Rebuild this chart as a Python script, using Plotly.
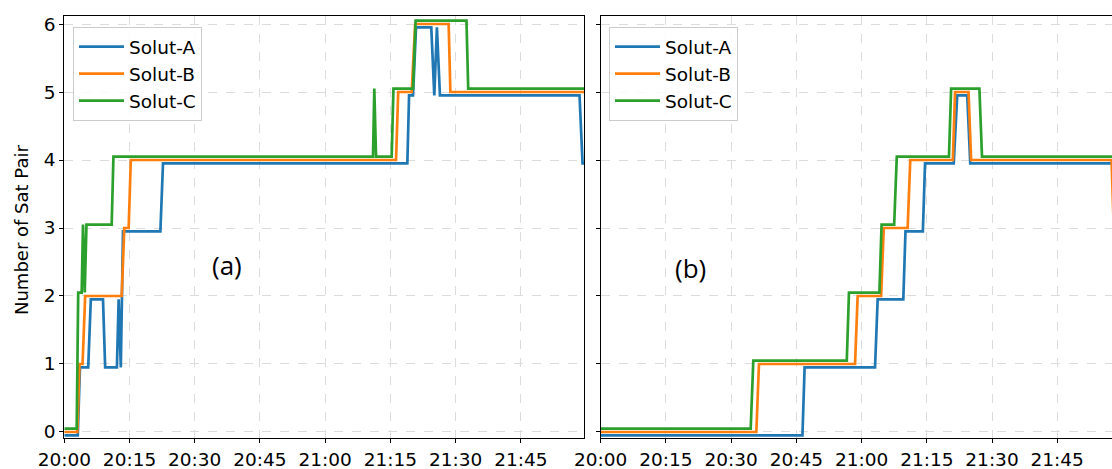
import pandas as pd
import plotly.graph_objects as go

# ---- data (minutes after 20:00, number of satellite pairs) ----
series_names = ["Solut-A", "Solut-B", "Solut-C"]
series_colors = ["#1f77b4", "#ff7f0e", "#2ca02c"]
series_offsets = [-0.05, 0.0, 0.05]

a_A_t = [0, 3.1, 3.6, 5.5, 6.1, 8.9, 9.4, 12.1, 12.5, 13.0, 13.5, 22.1, 22.7, 78.9, 79.3, 80.2, 80.9,
         84.4, 85.1, 85.7, 86.4, 118.5, 119.2, 120]
a_A_v = [0, 0, 1, 1, 2, 2, 1, 1, 2, 1, 3, 3, 4, 4, 5, 5, 6, 6, 5, 6, 5, 5, 4, 4]

a_B_t = [0, 3.0, 3.5, 4.2, 4.8, 13.2, 13.8, 14.8, 15.3, 76.3, 76.8, 79.9, 80.7, 88.4, 88.8, 120]
a_B_v = [0, 0, 1, 1, 2, 2, 3, 3, 4, 4, 5, 5, 6, 6, 5, 5]

a_C_t = [0, 2.85, 3.2, 4.0, 4.3, 4.7, 5.1, 10.9, 11.3, 71.0, 71.3, 71.7, 75.3, 75.7, 80.2, 80.8,
         92.5, 92.9, 120]
a_C_v = [0, 0, 2, 2, 3, 2, 3, 3, 4, 4, 5, 4, 4, 5, 5, 6, 6, 5, 5]

b_A_t = [0, 46.4, 46.9, 63.1, 63.7, 69.6, 70.1, 74.1, 74.6, 81.2, 82.0, 84.3, 85.0, 120]
b_A_v = [0, 0, 1, 1, 2, 2, 3, 3, 4, 4, 5, 5, 4, 4]

b_B_t = [0, 35.8, 36.4, 58.5, 59.1, 64.5, 65.1, 70.6, 71.2, 81.0, 81.5, 84.6, 85.2, 117.5, 118.5]
b_B_v = [0, 0, 1, 1, 2, 2, 3, 3, 4, 4, 5, 5, 4, 4, 2]

b_C_t = [0, 34.5, 35.1, 56.6, 57.1, 64.1, 64.6, 67.5, 68.1, 80.1, 80.6, 87.1, 87.7, 120]
b_C_v = [0, 0, 1, 1, 2, 2, 3, 3, 4, 4, 5, 5, 4, 4]

panel_labels = ["(a)", "(b)"]
y_ticks = [0, 1, 2, 3, 4, 5, 6]
y_title = "Number of Sat Pair"

base = pd.Timestamp("2024-01-01 20:00:00")


def to_time(mins):
    return [base + pd.Timedelta(minutes=m) for m in mins]


panels = [
    [(a_A_t, a_A_v), (a_B_t, a_B_v), (a_C_t, a_C_v)],
    [(b_A_t, b_A_v), (b_B_t, b_B_v), (b_C_t, b_C_v)],
]

fig = go.Figure()
for p, panel in enumerate(panels):
    xa = "x" if p == 0 else "x2"
    ya = "y" if p == 0 else "y2"
    lg = "legend" if p == 0 else "legend2"
    for i, (t, v) in enumerate(panel):
        fig.add_trace(go.Scatter(
            x=to_time(t), y=[val + series_offsets[i] for val in v],
            mode="lines", name=series_names[i],
            line=dict(color=series_colors[i], width=2.7),
            xaxis=xa, yaxis=ya, legend=lg, legendgroup=f"{p}{i}",
        ))

W, H = 1112, 469
FONT = "DejaVu Sans"
FS = 18.5
x0a, x1a = 64.3 / W, 584.3 / W
x0b = 600.7 / W
ytop, ybot = 16, 438.3
ydom = [(H - ybot) / H, (H - ytop) / H]
span_a = 119.6
span_b = span_a * (W - 600.7) / (584.3 - 64.3)

grid = dict(showgrid=True, gridcolor="#dcdcdc", griddash="dash", gridwidth=1)
axis_common = dict(showline=True, linecolor="black", linewidth=1.3, ticks="outside",
                   ticklen=4, tickwidth=1, tickcolor="black", zeroline=False, automargin=False,
                   tickfont=dict(family=FONT, size=FS, color="black"), **grid)

xcommon = dict(type="date", tickformat="%H:%M", dtick=15 * 60 * 1000,
               tick0=str(base), **axis_common)

legend_common = dict(xanchor="left", yanchor="top", itemwidth=45,
                     bgcolor="rgba(255,255,255,0.85)", bordercolor="#cccccc", borderwidth=1,
                     font=dict(family=FONT, size=FS, color="black"), tracegroupgap=0,
                     traceorder="grouped")

fig.update_layout(
    width=W, height=H, margin=dict(l=0, r=0, t=0, b=0),
    paper_bgcolor="white", plot_bgcolor="white",
    font=dict(family=FONT, size=FS, color="black"),
    xaxis=dict(domain=[x0a, x1a], anchor="y", mirror=True,
               range=[str(base), str(base + pd.Timedelta(minutes=span_a))], **xcommon),
    xaxis2=dict(domain=[x0b, 1.0], anchor="y2", mirror=True,
                range=[str(base), str(base + pd.Timedelta(minutes=span_b))], **xcommon),
    yaxis=dict(domain=ydom, anchor="x", range=[-0.093, 6.118], tickvals=y_ticks, mirror=True,
               **axis_common),
    yaxis2=dict(domain=ydom, anchor="x2", range=[-0.093, 6.118], tickvals=y_ticks,
                showticklabels=False, mirror=False, **axis_common),
    showlegend=True,
    legend=dict(x=73 / W, y=1 - 27 / H, **legend_common),
    legend2=dict(x=609 / W, y=1 - 27 / H, **legend_common),
)

fig.add_annotation(text=y_title, x=22 / W, y=1 - 230 / H, xref="paper", yref="paper",
                   textangle=-90, showarrow=False, xanchor="center", yanchor="middle",
                   font=dict(family=FONT, size=18, color="black"))

label_pos = [(227, 265), (690, 268)]
for lab, (px, py) in zip(panel_labels, label_pos):
    fig.add_annotation(text=lab, x=px / W, y=1 - py / H, xref="paper", yref="paper",
                       showarrow=False, xanchor="center", yanchor="middle",
                       font=dict(family="Open Sans", size=26, color="black"))

fig.write_html("out.html", config={"displayModeBar": False},
               post_script="document.body.style.margin='0';")
